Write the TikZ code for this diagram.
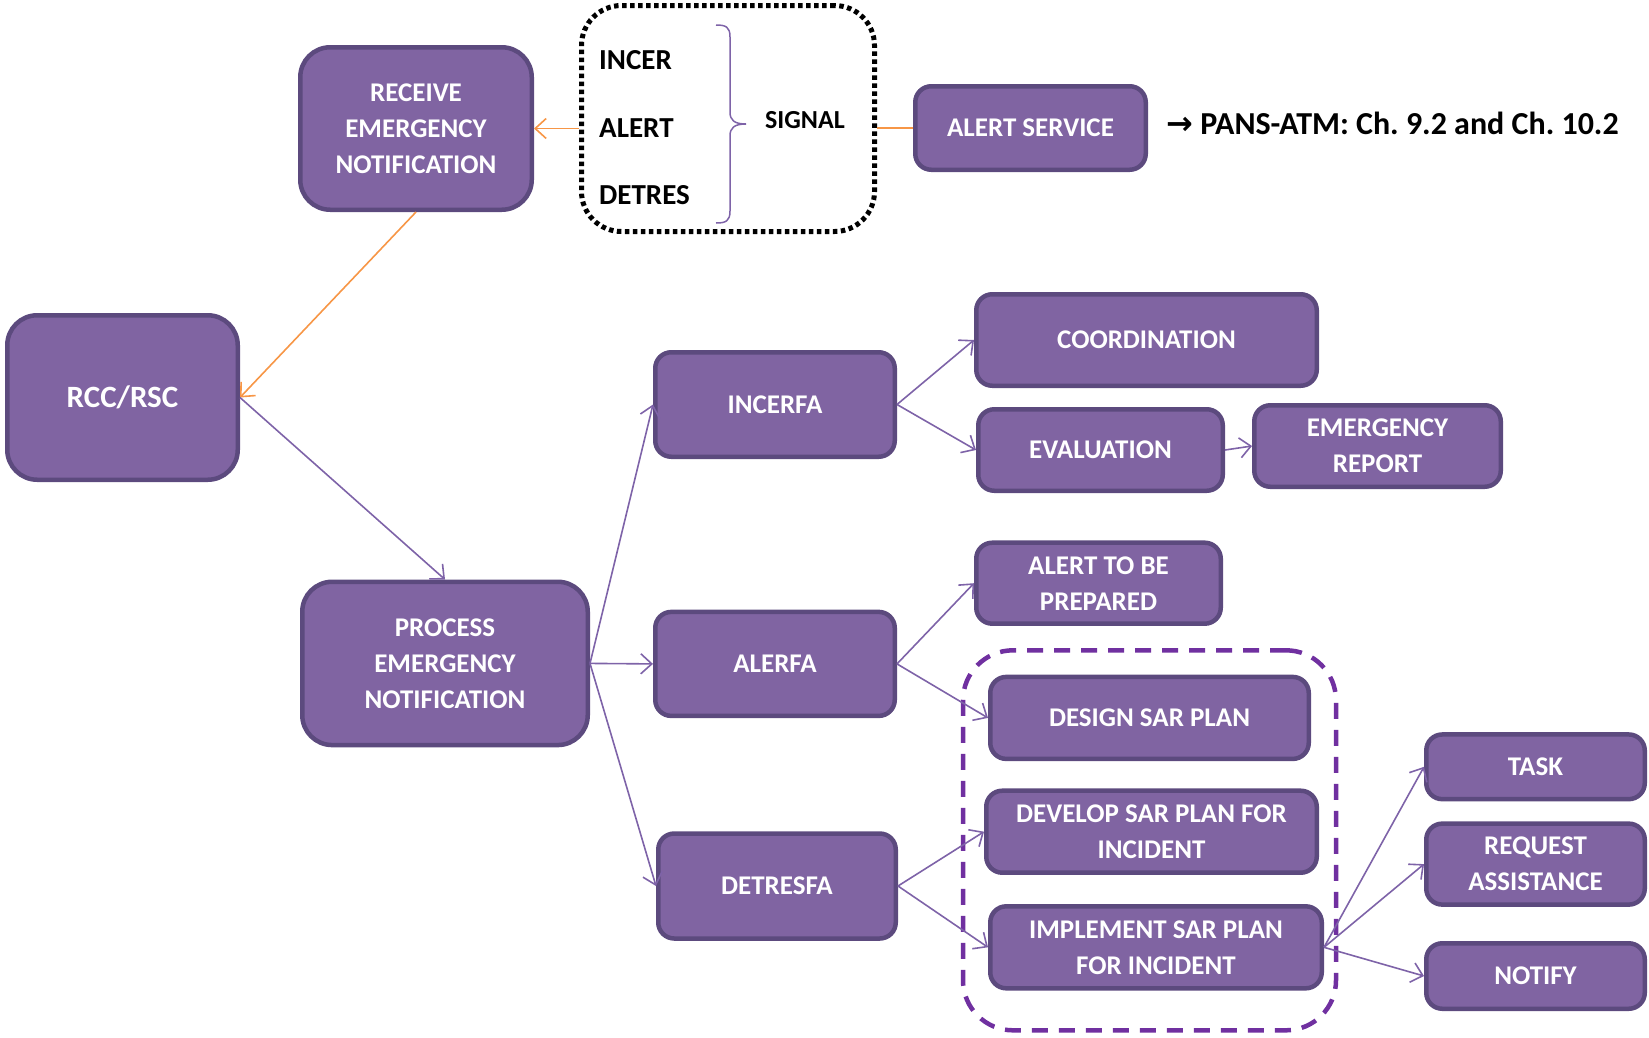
\documentclass[tikz,border=0pt]{standalone}
\usepackage{fontspec}
\setmainfont{Carlito}
\newfontfamily\dejavu{DejaVu Sans}
\usetikzlibrary{arrows.meta}
\definecolor{boxfill}{HTML}{8064A2}
\definecolor{boxline}{HTML}{5C4A7E}
\definecolor{purpleline}{HTML}{7E63A8}
\definecolor{orng}{HTML}{F79646}
\definecolor{dashpurple}{HTML}{7030A0}
\frenchspacing
\begin{document}
\begin{tikzpicture}[x=1pt,y=-1pt,
  box/.style={draw=boxline, fill=boxfill, line width=4.5pt, rounded corners=16pt, text=white,
    font=\bfseries\fontsize{27}{36}\selectfont, align=center, inner sep=0pt},
  bigbox/.style={box, rounded corners=30pt},
  barb/.style={-{Straight Barb[length=11pt,width=20pt]}},
  link/.style={draw=purpleline, line width=1.6pt, barb},
  olink/.style={draw=orng, line width=1.6pt},
  lbl/.style={text=black, font=\bfseries\fontsize{29}{29}\selectfont, inner sep=0pt}
]
\useasboundingbox (0,0) rectangle (1649,1037);

% grouping frames
\node[draw=black, line width=5pt, dash pattern=on 4.5pt off 3.5pt, rounded corners=40pt,
  minimum width=293pt, minimum height=226pt, inner sep=0pt] (sig) at (728,118.5) {};
\node[draw=dashpurple, line width=4.5pt, dash pattern=on 16pt off 11pt, rounded corners=50pt,
  minimum width=373pt, minimum height=380pt, inner sep=0pt] (sarframe) at (1149.5,840.3) {};

% boxes
\node[bigbox, minimum width=231.5pt, minimum height=162.5pt] (recv) at (416,128.5) {RECEIVE\\EMERGENCY\\NOTIFICATION};
\node[bigbox, minimum width=230.5pt, minimum height=164.5pt, font=\bfseries\fontsize{31}{36}\selectfont] (rcc) at (122.5,397.5) {RCC/RSC};
\node[box, minimum width=230.5pt, minimum height=83.5pt] (alertsvc) at (1030.5,128) {ALERT SERVICE};
\node[box, minimum width=239.5pt, minimum height=104.5pt] (incerfa) at (775,404.5) {INCERFA};
\node[box, minimum width=340.5pt, minimum height=91.5pt] (coord) at (1146.5,340) {COORDINATION};
\node[box, minimum width=244.5pt, minimum height=81.5pt] (evalu) at (1100.5,450) {EVALUATION};
\node[box, minimum width=246.5pt, minimum height=81.5pt] (emrep) at (1377.5,446) {EMERGENCY\\REPORT};
\node[bigbox, minimum width=285.5pt, minimum height=163.3pt] (proc) at (445,663.4) {PROCESS\\EMERGENCY\\NOTIFICATION};
\node[box, minimum width=239.5pt, minimum height=104pt] (alerfa) at (775,663.9) {ALERFA};
\node[box, minimum width=237.5pt, minimum height=105pt] (detresfa) at (777,886) {DETRESFA};
\node[box, minimum width=244.5pt, minimum height=81pt] (prep) at (1098.5,583.2) {ALERT TO BE\\PREPARED};
\node[box, minimum width=318.5pt, minimum height=82pt] (design) at (1149.5,717.9) {DESIGN SAR PLAN};
\node[box, minimum width=330.5pt, minimum height=82pt] (develop) at (1151.5,831.7) {DEVELOP SAR PLAN FOR\\INCIDENT};
\node[box, minimum width=331.5pt, minimum height=82pt] (implement) at (1156,947.3) {IMPLEMENT SAR PLAN\\FOR INCIDENT};
\node[box, minimum width=218.5pt, minimum height=64.7pt] (task) at (1535.5,766.8) {TASK};
\node[box, minimum width=218.5pt, minimum height=81pt] (reqass) at (1535.5,864.1) {REQUEST\\ASSISTANCE};
\node[box, minimum width=218.5pt, minimum height=65.5pt] (notify) at (1535.5,976) {NOTIFY};

% signal texts
\node[lbl, anchor=west] (incer) at (599,60) {INCER};
\node[lbl, anchor=west] (alert) at (599,128) {ALERT};
\node[lbl, anchor=west] (detres) at (599,195) {DETRES};
\draw[draw=purpleline, line width=1.5pt]
  (716,25) .. controls (726,25) and (730,27) .. (730,37) -- (730,112)
  .. controls (730,120) and (734,124) .. (746,124)
  .. controls (734,124) and (730,128) .. (730,136) -- (730,211)
  .. controls (730,221) and (726,223) .. (716,223);
\node[lbl, font=\bfseries\fontsize{26}{26}\selectfont] (signal) at (805,120) {SIGNAL};
\node[lbl, anchor=west, font=\bfseries\fontsize{32}{32}\selectfont] (pans) at (1166,123) {{\dejavu\bfseries →} PANS-ATM: Ch. 9.2 and Ch. 10.2};

% connectors
\draw[olink, barb] (sig.west |- recv.east) -- (recv.east);
\draw[olink] (alertsvc.west) -- (sig.east |- alertsvc.west);
\draw[olink, barb] (recv.south) -- (rcc.east);
\draw[link] (rcc.east) -- (proc.north);
\draw[link] (proc.east) -- (incerfa.west);
\draw[link] (proc.east) -- (alerfa.west);
\draw[link] (proc.east) -- (detresfa.west);
\draw[link] (incerfa.east) -- (coord.west);
\draw[link] (incerfa.east) -- (evalu.west);
\draw[link] (evalu.east) -- (emrep.west);
\draw[link] (alerfa.east) -- (prep.west);
\draw[link] (alerfa.east) -- (design.west);
\draw[link] (detresfa.east) -- (develop.west);
\draw[link] (detresfa.east) -- (implement.west);
\draw[link] (implement.east) -- (task.west);
\draw[link] (implement.east) -- (reqass.west);
\draw[link] (implement.east) -- (notify.west);
\end{tikzpicture}
\end{document}
